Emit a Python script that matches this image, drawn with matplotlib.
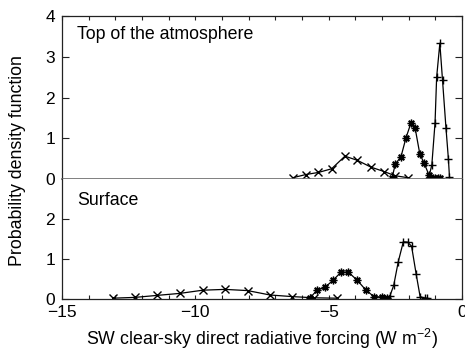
import matplotlib
matplotlib.use("Agg")
import matplotlib.pyplot as plt
from matplotlib.ticker import MultipleLocator

plt.rcParams['font.family'] = ['Liberation Sans', 'DejaVu Sans']
plt.rcParams['font.size'] = 12.5

# top of the atmosphere
toa_x_x = [-6.35, -5.85, -5.39, -4.89, -4.39, -3.93, -3.41, -2.91, -2.51, -2.01]
toa_x_y = [0.03, 0.11, 0.16, 0.25, 0.56, 0.46, 0.29, 0.18, 0.08, 0.03]
toa_s_x = [-2.62, -2.5, -2.29, -2.1, -1.91, -1.76, -1.58, -1.42, -1.24, -1.1, -1.0, -0.9, -0.82]
toa_s_y = [0.03, 0.37, 0.54, 1.01, 1.38, 1.26, 0.61, 0.39, 0.1, 0.03, 0.02, 0.02, 0.02]
toa_p_x = [-1.25, -1.13, -1.01, -0.95, -0.83, -0.73, -0.6, -0.51, -0.47]
toa_p_y = [0.02, 0.35, 1.38, 2.5, 3.33, 2.43, 1.25, 0.5, 0.06]

# surface
sfc_x_x = [-13.1, -12.26, -11.43, -10.58, -9.72, -8.89, -8.04, -7.2, -6.37, -5.55, -4.7]
sfc_x_y = [0.02, 0.04, 0.09, 0.14, 0.22, 0.24, 0.21, 0.1, 0.06, 0.03, 0.02]
sfc_s_x = [-5.7, -5.43, -5.14, -4.83, -4.54, -4.26, -3.93, -3.6, -3.3, -3.01, -2.83]
sfc_s_y = [0.03, 0.22, 0.29, 0.47, 0.67, 0.67, 0.47, 0.22, 0.06, 0.05, 0.03]
sfc_p_x = [-2.7, -2.56, -2.39, -2.2, -2.04, -1.89, -1.72, -1.57, -1.39, -1.3]
sfc_p_y = [0.08, 0.34, 0.93, 1.43, 1.42, 1.32, 0.63, 0.06, 0.02, 0.02]

star = (8, 2, 0)

fig = plt.figure(figsize=(4.65, 3.52), dpi=100)
ax1 = fig.add_axes([0.1333, 0.4915, 0.8602, 0.463])
ax2 = fig.add_axes([0.1333, 0.1506, 0.8602, 0.3409])

def style(ax):
    ax.set_xlim(-15, 0)
    ax.xaxis.set_major_locator(MultipleLocator(5))
    ax.xaxis.set_minor_locator(MultipleLocator(1))
    ax.yaxis.set_major_locator(MultipleLocator(1))
    ax.tick_params(direction='in', which='both', colors='#222222', labelcolor='black', labelsize=12.5)
    ax.tick_params(axis='y', which='major', length=5, width=0.8, right=True, pad=5)
    ax.tick_params(axis='x', which='both', length=3, width=0.8, pad=4)
    for s in ax.spines.values():
        s.set_color('#222222')
        s.set_linewidth(0.9)

lk = dict(color='black', lw=0.9, ms=5.5, mew=1.0)

ax1.plot(toa_x_x, toa_x_y, marker='x', **lk)
ax1.plot(toa_s_x, toa_s_y, marker=star, **lk)
ax1.plot(toa_p_x, toa_p_y, marker='+', **lk)
style(ax1)
ax1.set_ylim(0, 4)
ax1.tick_params(axis='x', which='both', top=True, bottom=False, labelbottom=False)
ax1.spines['bottom'].set_color('#6a6a6a')
ax1.spines['bottom'].set_linewidth(1.2)
ax1.text(0.038, 0.86, 'Top of the atmosphere', transform=ax1.transAxes, fontsize=12.8)

ax2.plot(sfc_x_x, sfc_x_y, marker='x', **lk)
ax2.plot(sfc_s_x, sfc_s_y, marker=star, **lk)
ax2.plot(sfc_p_x, sfc_p_y, marker='+', **lk)
style(ax2)
ax2.set_ylim(0, 3)
ax2.set_yticks([0, 1, 2])
ax2.spines['top'].set_visible(False)
ax2.tick_params(axis='x', which='both', top=False, bottom=True)
ax2.set_xticks([-15, -10, -5, 0])
ax2.set_xticklabels(['\u221215', '\u221210', '\u22125', '0'])
ax2.text(0.038, 0.78, 'Surface', transform=ax2.transAxes, fontsize=12.8)
ax2.set_xlabel('SW clear-sky direct radiative forcing (W m$^{\\mathregular{-2}}$)', fontsize=12.8, labelpad=5)

fig.text(0.037, 0.545, 'Probability density function', rotation=90, va='center', ha='center', fontsize=12.8)

fig.savefig('out.png', dpi=100)
